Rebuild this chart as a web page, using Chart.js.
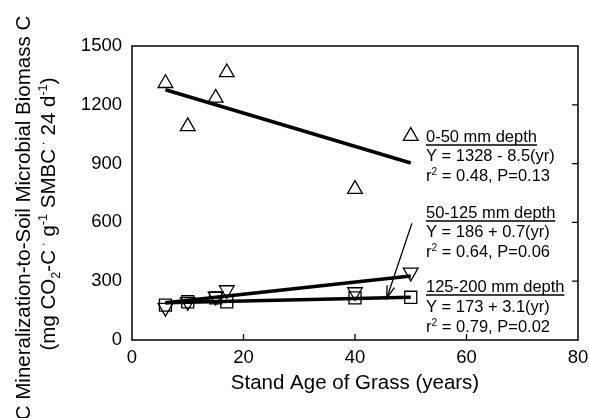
<!DOCTYPE html>
<html>
<head>
<meta charset="utf-8">
<script src="https://cdn.jsdelivr.net/npm/chart.js@4.4.1/dist/chart.umd.min.js"></script>
<style>
  html, body { margin: 0; padding: 0; background: #fff; }
</style>
</head>
<body>
<canvas id="chart" width="589" height="418"></canvas>
<script>
// stand age (years) of each sampled grass stand
const ages = [6, 10, 15, 17, 40, 50];
// mineralization-to-biomass ratio per depth
const depth0to50 = [1310, 1090, 1235, 1365, 770, 1040];     // up triangles
const depth50to125 = [178, 195, 215, 195, 215, 218];        // squares
const depth125to200 = [165, 195, 222, 255, 245, 345];       // down triangles

// regression line end points
const fitAges = [6, 50];
const fit0to50 = [1277, 903];
const fit50to125 = [190, 218];
const fit125to200 = [190, 326];

// arrow from the 50-125 label to its line
const arrowAges = [50.2, 45.7];
const arrowValues = [595, 213];

const xTicks = [0, 20, 40, 60, 80];
const yTicks = [0, 300, 600, 900, 1200, 1500];

const FONT = 'Liberation Sans, Arial, Helvetica, sans-serif';

const pairs = (xs, ys) => xs.map((x, i) => ({ x: x, y: ys[i] }));

// draw text made of normal / sub / sup pieces
const drawRich = (ctx, parts, x, y, size, align) => {
  const small = size * 0.62;
  const widths = parts.map(([t, m]) => {
    ctx.font = `${m ? small : size}px ${FONT}`;
    return ctx.measureText(t).width;
  });
  const total = widths.reduce((a, b) => a + b, 0);
  let cx = align === 'center' ? x - total / 2 : x;
  parts.forEach(([t, m], i) => {
    ctx.font = `${m ? small : size}px ${FONT}`;
    let dy = 0;
    if (m === 'sup') dy = -size * 0.38;
    if (m === 'sub') dy = size * 0.22;
    ctx.fillText(t, cx, y + dy);
    cx += widths[i];
  });
  return total;
};

const annotations = [
  { x: 426, y: 142, parts: [['0-50 mm depth']], underline: true },
  { x: 426, y: 161, parts: [['Y = 1328 - 8.5(yr)']] },
  { x: 426, y: 181, parts: [['r'], ['2', 'sup'], [' = 0.48, P=0.13']] },
  { x: 426, y: 218, parts: [['50-125 mm depth']], underline: true },
  { x: 426, y: 237, parts: [['Y = 186 + 0.7(yr)']] },
  { x: 426, y: 257, parts: [['r'], ['2', 'sup'], [' = 0.64, P=0.06']] },
  { x: 426, y: 292, parts: [['125-200 mm depth']], underline: true },
  { x: 426, y: 312, parts: [['Y = 173 + 3.1(yr)']] },
  { x: 426, y: 332, parts: [['r'], ['2', 'sup'], [' = 0.79, P=0.02']] },
];

const decorPlugin = {
  id: 'decor',
  afterDraw(chart) {
    const ctx = chart.ctx;
    const area = chart.chartArea;
    const xs = chart.scales.x;
    const ys = chart.scales.y;
    ctx.save();
    ctx.strokeStyle = '#000';
    ctx.fillStyle = '#000';

    // frame
    ctx.lineWidth = 1.5;
    ctx.strokeRect(area.left, area.top, area.right - area.left, area.bottom - area.top);

    // inward ticks: bottom and right
    ctx.lineWidth = 1.3;
    ctx.beginPath();
    xTicks.slice(1, -1).forEach((v) => {
      const px = xs.getPixelForValue(v);
      ctx.moveTo(px, area.bottom);
      ctx.lineTo(px, area.bottom - 6);
    });
    yTicks.slice(1, -1).forEach((v) => {
      const py = ys.getPixelForValue(v);
      ctx.moveTo(area.right, py);
      ctx.lineTo(area.right - 6, py);
    });
    ctx.stroke();

    // arrow head
    const x1 = xs.getPixelForValue(arrowAges[0]);
    const y1 = ys.getPixelForValue(arrowValues[0]);
    const x2 = xs.getPixelForValue(arrowAges[1]);
    const y2 = ys.getPixelForValue(arrowValues[1]);
    const ang = Math.atan2(y2 - y1, x2 - x1);
    ctx.beginPath();
    ctx.moveTo(x2 - 13 * Math.cos(ang - 0.3), y2 - 13 * Math.sin(ang - 0.3));
    ctx.lineTo(x2, y2);
    ctx.lineTo(x2 - 13 * Math.cos(ang + 0.3), y2 - 13 * Math.sin(ang + 0.3));
    ctx.stroke();

    // equation labels
    ctx.textBaseline = 'alphabetic';
    ctx.textAlign = 'left';
    annotations.forEach((a) => {
      const w = drawRich(ctx, a.parts, a.x, a.y, 16.5, 'left');
      if (a.underline) {
        ctx.lineWidth = 1.3;
        ctx.beginPath();
        ctx.moveTo(a.x, a.y + 3);
        ctx.lineTo(a.x + w, a.y + 3);
        ctx.stroke();
      }
    });

    // y axis title, two rotated lines
    ctx.save();
    ctx.translate(30, 218);
    ctx.rotate(-Math.PI / 2);
    drawRich(ctx, [['C Mineralization-to-Soil Microbial Biomass C']], 0, 0, 20.5, 'center');
    ctx.restore();
    ctx.save();
    ctx.translate(55, 214);
    ctx.rotate(-Math.PI / 2);
    drawRich(ctx, [
      ['(mg CO'], ['2', 'sub'], ['-C'], [' \u00B7', 'sup'], [' g'], ['-1', 'sup'],
      [' SMBC'], [' \u00B7', 'sup'], [' 24 d'], ['-1', 'sup'], [')'],
    ], 0, 0, 20.5, 'center');
    ctx.restore();

    ctx.restore();
  },
};

const marker = (style, rotation) => ({
  type: 'scatter',
  pointStyle: style,
  rotation: rotation,
  pointRadius: 8.5,
  pointHoverRadius: 8.5,
  pointBorderWidth: 1.3,
  borderColor: '#000',
  backgroundColor: 'rgba(0,0,0,0)',
  showLine: false,
});

const fitLine = (values, width) => ({
  type: 'scatter',
  data: pairs(fitAges, values),
  showLine: true,
  borderColor: '#000',
  borderWidth: width,
  pointRadius: 0,
});

new Chart(document.getElementById('chart'), {
  type: 'scatter',
  data: {
    datasets: [
      { ...marker('triangle', 0), data: pairs(ages, depth0to50) },
      { ...marker('triangle', 180), data: pairs(ages, depth125to200) },
      { ...marker('rect', 0), data: pairs(ages, depth50to125) },
      fitLine(fit0to50, 3.5),
      fitLine(fit125to200, 3.5),
      fitLine(fit50to125, 3.5),
      {
        type: 'scatter',
        data: pairs(arrowAges, arrowValues),
        showLine: true,
        borderColor: '#000',
        borderWidth: 1.3,
        pointRadius: 0,
      },
    ],
  },
  options: {
    responsive: false,
    animation: false,
    layout: { padding: { top: 46, right: 11, left: 0, bottom: 0 } },
    plugins: { legend: { display: false }, tooltip: { enabled: false } },
    scales: {
      x: {
        type: 'linear',
        min: 0,
        max: 80,
        afterBuildTicks: (s) => { s.ticks = xTicks.map((v) => ({ value: v })); },
        afterFit: (s) => { s.height = 78; s.paddingLeft = 0; s.paddingRight = 0; },
        grid: { display: false, drawTicks: false },
        border: { display: false },
        ticks: { color: '#000', font: { family: FONT, size: 18.5 }, padding: 7, callback: (v) => String(v) },
        title: { display: true, text: 'Stand Age of Grass (years)', color: '#000', font: { family: FONT, size: 20.5 }, padding: { top: 0, bottom: 22 } },
      },
      y: {
        min: 0,
        max: 1500,
        afterBuildTicks: (s) => { s.ticks = yTicks.map((v) => ({ value: v })); },
        afterFit: (s) => { s.width = 132; s.paddingTop = 0; s.paddingBottom = 0; },
        grid: { display: false, drawTicks: false },
        border: { display: false },
        ticks: { color: '#000', font: { family: FONT, size: 18.5 }, padding: 10, callback: (v) => String(v) },
      },
    },
  },
  plugins: [decorPlugin],
});
</script>
</body>
</html>
